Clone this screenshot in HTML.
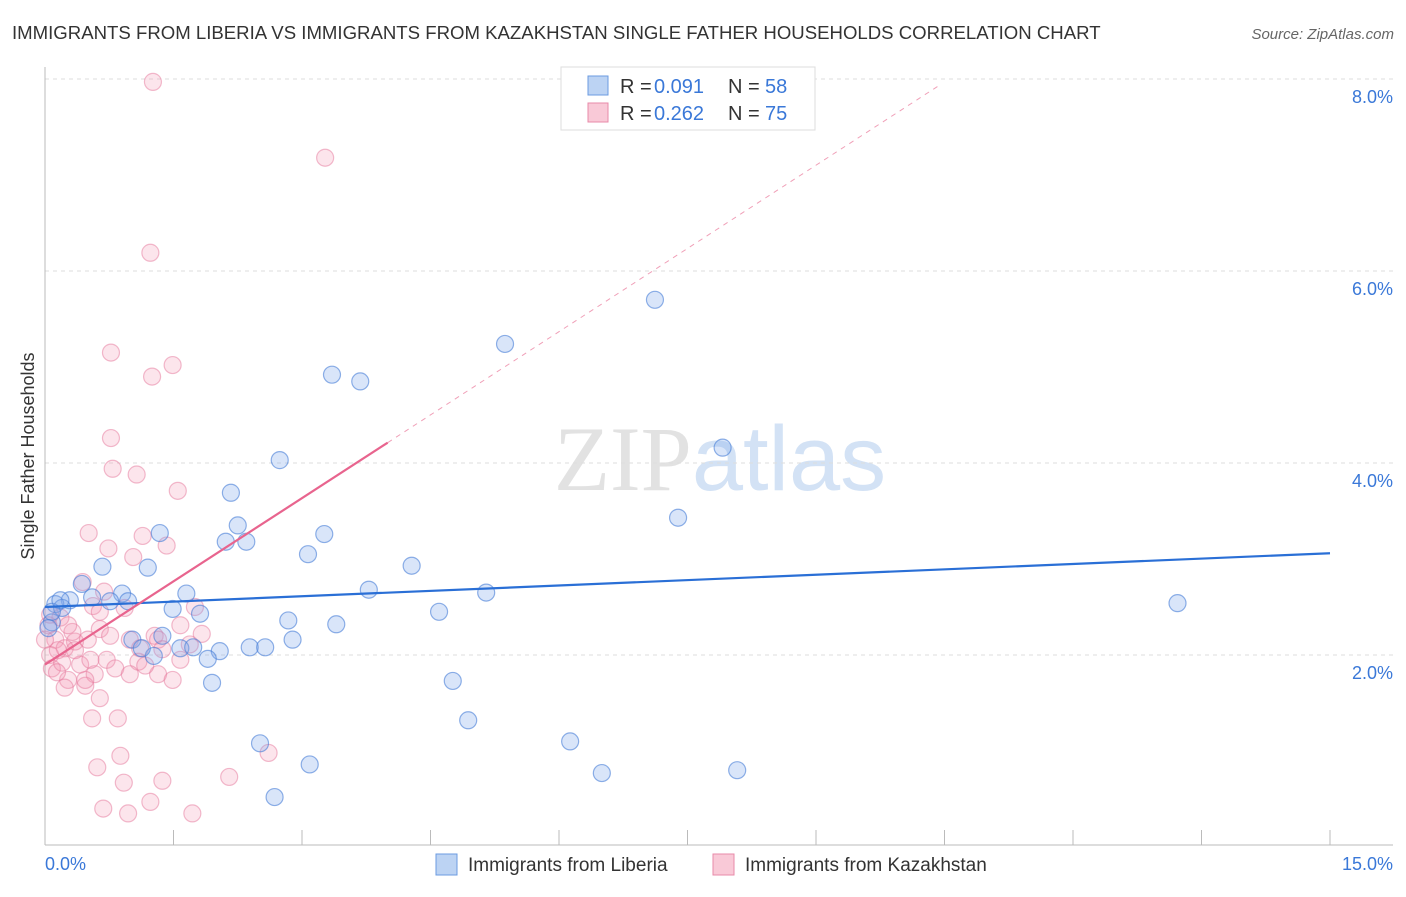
<!DOCTYPE html>
<html><head><meta charset="utf-8"><style>
body{margin:0;background:#fff;font-family:"Liberation Sans",sans-serif;}
svg text{font-family:"Liberation Sans",sans-serif;}
</style></head><body>
<svg id="chart" width="1406" height="892" xmlns="http://www.w3.org/2000/svg">
<text x="12" y="39" font-size="18.6" fill="#333">IMMIGRANTS FROM LIBERIA VS IMMIGRANTS FROM KAZAKHSTAN SINGLE FATHER HOUSEHOLDS CORRELATION CHART</text>
<text x="1394" y="39" font-size="15" fill="#666" text-anchor="end" font-style="italic">Source: ZipAtlas.com</text>
<text x="720" y="490" font-size="92" text-anchor="middle"><tspan fill="#e2e2e2" font-family="Liberation Serif">ZIP</tspan><tspan fill="#d3e2f5">atlas</tspan></text>
<text transform="translate(34,456) rotate(-90)" font-size="18" fill="#333" text-anchor="middle">Single Father Households</text>
<g id="grid"></g><g id="axes"></g><g id="pts"></g><g id="trends"></g>
<g>
<rect x="561" y="67" width="254" height="63" fill="#fff" stroke="#ddd"/>
<rect x="588" y="76" width="20" height="19" fill="#bcd3f3" stroke="#6b9be0"/>
<text x="620" y="93" font-size="20" fill="#333">R =</text><text x="654" y="93" font-size="20" fill="#3a78d8">0.091</text>
<text x="728" y="93" font-size="20" fill="#333">N =</text><text x="765" y="93" font-size="20" fill="#3a78d8">58</text>
<rect x="588" y="103" width="20" height="19" fill="#f9c9d7" stroke="#e88aa8"/>
<text x="620" y="120" font-size="20" fill="#333">R =</text><text x="654" y="120" font-size="20" fill="#3a78d8">0.262</text>
<text x="728" y="120" font-size="20" fill="#333">N =</text><text x="765" y="120" font-size="20" fill="#3a78d8">75</text>
</g>
<g>
<rect x="436" y="854" width="21" height="21" fill="#bcd3f3" stroke="#6b9be0"/>
<text x="468" y="871" font-size="19" fill="#333">Immigrants from Liberia</text>
<rect x="713" y="854" width="21" height="21" fill="#f9c9d7" stroke="#e88aa8"/>
<text x="745" y="871" font-size="19" fill="#333">Immigrants from Kazakhstan</text>
</g>
</svg>
<script>
const yTicks=[2,4,6,8];
const yTickLabels=["2.0%","4.0%","6.0%","8.0%"];
const xEnds=[0,15];
const xEndLabels=["0.0%","15.0%"];
const liberiaX=[7.12,5.37,3.35,3.68,7.91,2.74,2.17,7.39,2.25,1.34,2.11,2.35,3.26,3.07,1.20,0.67,4.28,3.78,5.15,1.65,0.90,0.55,0.43,0.29,0.12,0.20,0.76,0.97,1.49,1.81,2.84,4.60,3.40,0.08,1.37,1.02,2.89,1.58,1.73,2.39,2.57,2.04,1.90,1.27,1.13,1.95,4.76,4.94,6.13,2.51,3.09,6.50,8.08,2.68,13.22,0.08,0.18,0.04];
const liberiaY=[5.70,5.24,4.92,4.85,4.16,4.03,3.69,3.43,3.35,3.27,3.18,3.18,3.26,3.05,2.91,2.92,2.93,2.68,2.65,2.64,2.64,2.60,2.74,2.57,2.53,2.49,2.56,2.56,2.48,2.43,2.36,2.45,2.32,2.34,2.20,2.16,2.16,2.07,2.08,2.08,2.08,2.04,1.96,1.99,2.07,1.71,1.73,1.32,1.10,1.08,0.86,0.77,0.80,0.52,2.54,2.45,2.57,2.28];
const kazakhX=[1.26,3.27,1.23,0.77,1.25,1.49,0.77,0.79,1.07,1.55,0.51,1.14,1.42,0.74,1.03,0.44,0.69,0.93,1.75,0.56,0.18,0.04,1.28,0.64,0.35,0.50,0.99,1.32,1.83,0.12,0.23,0.06,0.72,1.58,1.09,0.41,0.82,0.08,0.27,0.58,0.99,1.32,1.49,0.23,0.47,0.64,0.55,0.85,1.17,1.37,1.69,0.88,0.61,1.37,0.92,2.15,2.61,0.68,0.97,1.23,1.72,0.15,0.32,0.20,0.00,0.06,0.14,0.47,0.35,0.76,0.64,1.58,1.11,0.27,0.53];
const kazakhY=[7.97,7.18,6.19,5.15,4.90,5.02,4.26,3.94,3.88,3.71,3.27,3.24,3.14,3.11,3.02,2.76,2.66,2.49,2.50,2.51,2.39,2.31,2.20,2.27,2.14,2.16,2.16,2.16,2.22,2.16,2.07,2.00,1.95,1.95,1.93,1.90,1.86,1.86,1.74,1.80,1.80,1.80,1.74,1.66,1.68,1.55,1.34,1.34,1.89,2.06,2.11,0.95,0.83,0.69,0.67,0.73,0.98,0.40,0.35,0.47,0.35,2.05,2.24,1.92,2.16,2.42,1.82,1.74,2.05,2.20,2.45,2.31,2.07,2.31,1.95];
const liberiaTrend=[2.50,3.06];
const kazakhTrend=[1.90,0.578];
const kazakhSolidEnd=4.0, kazakhDashEnd=10.45;
const X0=45,X1=1330,YB=847,PPY=96;
const sx=v=>X0+(v-xEnds[0])/(xEnds[1]-xEnds[0])*(X1-X0);
const sy=v=>YB-v*PPY;
const NS="http://www.w3.org/2000/svg";
function mk(tag,attrs,parent){const e=document.createElementNS(NS,tag);for(const k in attrs)e.setAttribute(k,attrs[k]);parent.appendChild(e);return e;}
const grid=document.getElementById('grid'),axes=document.getElementById('axes'),pts=document.getElementById('pts'),tr=document.getElementById('trends');
yTicks.forEach((t,i)=>{
 const l=mk('line',{x1:X0,x2:1393,y1:sy(t),y2:sy(t),stroke:'#ddd','stroke-dasharray':'4,4'},grid);
 
 
 const tx=mk('text',{x:1393,y:sy(t)+24,'font-size':18,fill:'#3a78d8','text-anchor':'end'},grid);
 tx.textContent=yTickLabels[i];
 
 
});
const ax=mk('line',{x1:X0,x2:X0,y1:67,y2:845,stroke:'#bbb'},axes);


const bx=mk('line',{x1:X0,x2:1393,y1:845,y2:845,stroke:'#bbb'},axes);


for(let v=0;v<=15.001;v+=1.5){
 const t=mk('line',{x1:sx(v),x2:sx(v),y1:830,y2:845,stroke:'#bbb'},axes);
 
 
}
xEnds.forEach((v,i)=>{
 const tx=mk('text',{x:i?1393:45,y:870,'font-size':18,fill:'#3a78d8','text-anchor':i?'end':'start'},axes);
 tx.textContent=xEndLabels[i];
 
 
});
kazakhX.forEach((x,i)=>{
 const c=mk('circle',{cx:sx(x),cy:sy(kazakhY[i]),r:8.5,fill:'rgba(244,150,180,0.25)',stroke:'rgba(230,120,155,0.5)','stroke-width':1.2},pts);
 
 
});
liberiaX.forEach((x,i)=>{
 const c=mk('circle',{cx:sx(x),cy:sy(liberiaY[i]),r:8.5,fill:'rgba(130,170,235,0.3)',stroke:'rgba(70,125,215,0.6)','stroke-width':1.2},pts);
 
 
});
const lb=mk('line',{x1:sx(0),y1:sy(liberiaTrend[0]),x2:sx(15),y2:sy(liberiaTrend[1]),stroke:'#2a6fd6','stroke-width':2.2},tr);


const kf=x=>kazakhTrend[0]+kazakhTrend[1]*x;
const kd=mk('line',{x1:sx(kazakhSolidEnd),y1:sy(kf(kazakhSolidEnd)),x2:sx(kazakhDashEnd),y2:sy(kf(kazakhDashEnd)),stroke:'#f0a0b8','stroke-width':1,'stroke-dasharray':'5,5'},tr);


const ks=mk('line',{x1:sx(0),y1:sy(kf(0)),x2:sx(kazakhSolidEnd),y2:sy(kf(kazakhSolidEnd)),stroke:'#e8648e','stroke-width':2.2},tr);


</script>
</body></html>
